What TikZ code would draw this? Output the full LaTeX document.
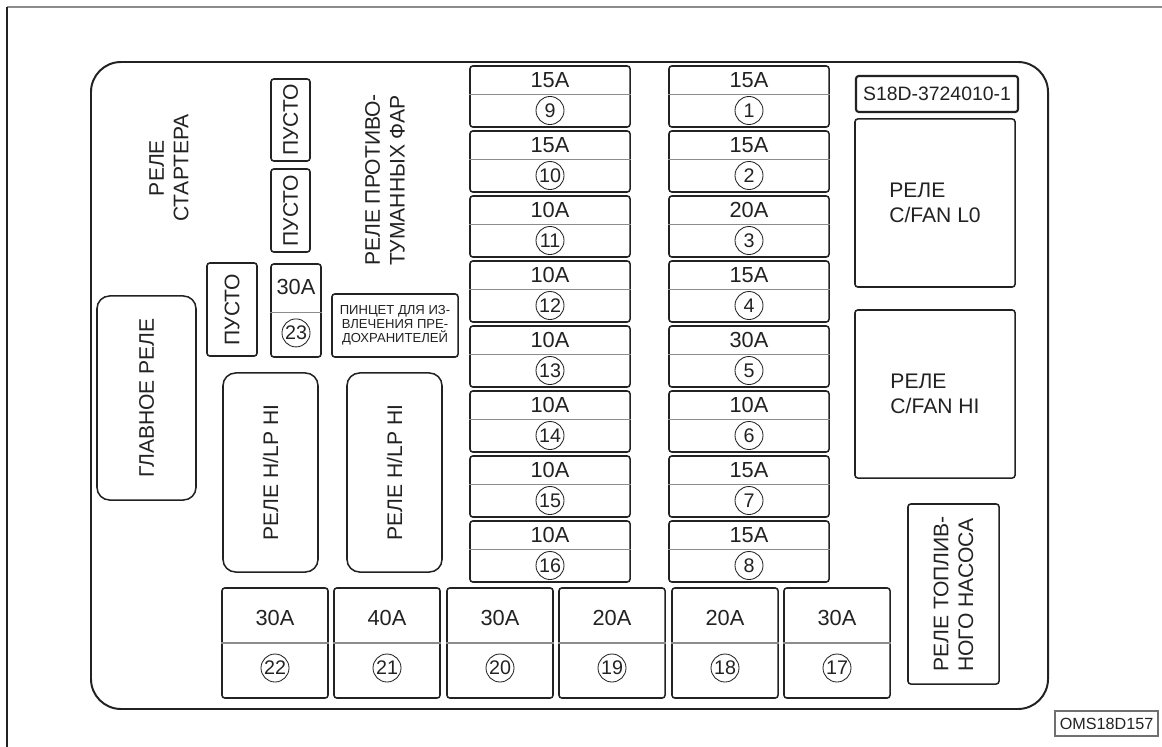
\documentclass[tikz,border=0pt]{standalone}
\usepackage{fontspec}
\setmainfont{Liberation Sans}
\usepackage{xcolor}
\usepackage{tikz}
\usetikzlibrary{positioning}

\definecolor{ink}{HTML}{222222}
\definecolor{rulegray}{HTML}{8C8C8C}

\begin{document}
\begin{tikzpicture}[x=0.025cm, y=-0.025cm,
  every node/.style={text=ink, font=\fontsize{15}{17.5}\selectfont},
  fusebox/.style={draw=ink, line width=1.1pt, rounded corners=2pt, inner sep=0pt},
  relaybox/.style={fusebox, rounded corners=9pt, align=center},
  emptybox/.style={fusebox, rotate=90},
  num/.style={draw=ink, circle, line width=0.6pt, inner sep=0pt, minimum size=0.7cm, font=\fontsize{14}{14}\selectfont},
  amp/.style={inner sep=0pt, font=\fontsize{15.5}{15.5}\selectfont},
  divline/.style={draw=rulegray, line width=0.8pt}]
  \useasboundingbox (0,0) rectangle (1162,747);

  % page frame and housing
  \draw[rulegray, line width=1.4pt] (7,7) -- (1162,7);
  \draw[ink, line width=1pt] (7,7) -- (7,747);
  \draw[ink, line width=1.4pt, rounded corners=0.75cm] (91,62) rectangle (1048,709);

  % left column of fuses
  \foreach \n/\a [count=\i from 0] in {9/15A,10/15A,11/10A,12/10A,13/10A,14/10A,15/10A,16/10A} {
    \pgfmathsetmacro\yc{96.5+65*\i}
    \node[fusebox, minimum width=4cm, minimum height=1.525cm] (f\n) at (550,\yc) {};
    \draw[divline] ([yshift=0.06cm]f\n.west) -- ([yshift=0.06cm]f\n.east);
    \node[amp] (a\n) at ([yshift=0.41cm]f\n.center) {\a};
    \node[num] (c\n) at ([yshift=-0.35cm]f\n.center) {\n};
  }

  % right column of fuses
  \foreach \n/\a [count=\i from 0] in {1/15A,2/15A,3/20A,4/15A,5/30A,6/10A,7/15A,8/15A} {
    \pgfmathsetmacro\yc{96.5+65*\i}
    \node[fusebox, minimum width=4cm, minimum height=1.525cm] (f\n) at (749,\yc) {};
    \draw[divline] ([yshift=0.06cm]f\n.west) -- ([yshift=0.06cm]f\n.east);
    \node[amp] (a\n) at ([yshift=0.41cm]f\n.center) {\a};
    \node[num] (c\n) at ([yshift=-0.35cm]f\n.center) {\n};
  }

  % bottom row of big fuses
  \foreach \n/\a/\xl in {22/30A/222,21/40A/334,20/30A/447,19/20A/559,18/20A/672,17/30A/784} {
    \node[fusebox, minimum width=2.65cm, minimum height=2.75cm] (f\n) at (\xl+53,643) {};
    \draw[divline] (f\n.west) -- (f\n.east);
    \node[amp] (a\n) at ([yshift=0.625cm]f\n.center) {\a};
    \node[num] (c\n) at ([yshift=-0.625cm]f\n.center) {\n};
  }

  % small fuse 23
  \node[fusebox, minimum width=1.25cm, minimum height=2.325cm] (f23) at (296,310.5) {};
  \draw[divline] ([yshift=-0.04cm]f23.west) -- ([yshift=-0.04cm]f23.east);
  \node[amp] (a23) at ([yshift=0.59cm]f23.center) {30A};
  \node[num] (c23) at ([yshift=-0.56cm]f23.center) {23};

  % empty slots
  \node[emptybox, minimum width=2.05cm, minimum height=0.975cm] (empty1) at (290.5,120) {ПУСТО};
  \node[emptybox, minimum width=2.075cm, minimum height=0.975cm] (empty2) at (290.5,210.5) {ПУСТО};
  \node[emptybox, minimum width=2.325cm, minimum height=1.25cm] (empty3) at (232,309.5) {ПУСТО};

  % relays
  \node[rotate=90, align=center] (starter) at (169,168) {РЕЛЕ\\СТАРТЕРА};
  \node[rotate=90, align=left] (foglamp) at (385,180) {РЕЛЕ ПРОТИВО-\\ТУМАННЫХ ФАР};
  \node[relaybox, rotate=90, minimum width=5.1cm, minimum height=2.475cm] (mainrelay) at (146.5,398) {ГЛАВНОЕ РЕЛЕ};
  \node[relaybox, rotate=90, minimum width=4.975cm, minimum height=2.375cm] (hlp1) at (270.5,472.5) {РЕЛЕ H/LP HI};
  \node[relaybox, rotate=90, minimum width=4.975cm, minimum height=2.375cm] (hlp2) at (394.5,472.5) {РЕЛЕ H/LP HI};
  \node[fusebox, align=left, minimum width=4cm, minimum height=4.2cm] (fanlo) at (935,203) {РЕЛЕ\\C/FAN L0};
  \node[fusebox, align=left, minimum width=4cm, minimum height=4.2cm] (fanhi) at (935,394) {РЕЛЕ\\C/FAN HI};
  \node[fusebox, rotate=90, align=left, minimum width=4.5cm, minimum height=2.275cm] (fuelpump) at (953.5,594) {РЕЛЕ ТОПЛИВ-\\НОГО НАСОСА};

  % puller and labels
  \node[fusebox, align=center, minimum width=3.15cm, minimum height=1.575cm,
        font=\fontsize{9.3}{9.8}\selectfont] (puller) at (395,325.5) {ПИНЦЕТ ДЛЯ ИЗ-\\ВЛЕЧЕНИЯ ПРЕ-\\ДОХРАНИТЕЛЕЙ};
  \node[fusebox, line width=1.5pt, minimum width=4.05cm, minimum height=0.9cm,
        font=\fontsize{13.8}{13.8}\selectfont] (partno) at (937,94) {S18D-3724010-1};
  \node[draw=rulegray!80!black, line width=0.8pt, minimum width=2.575cm, minimum height=0.625cm, inner sep=0pt,
        font=\fontsize{11.5}{11.5}\selectfont] (figcode) at (1106.5,723.5) {OMS18D157};
\end{tikzpicture}
\end{document}
